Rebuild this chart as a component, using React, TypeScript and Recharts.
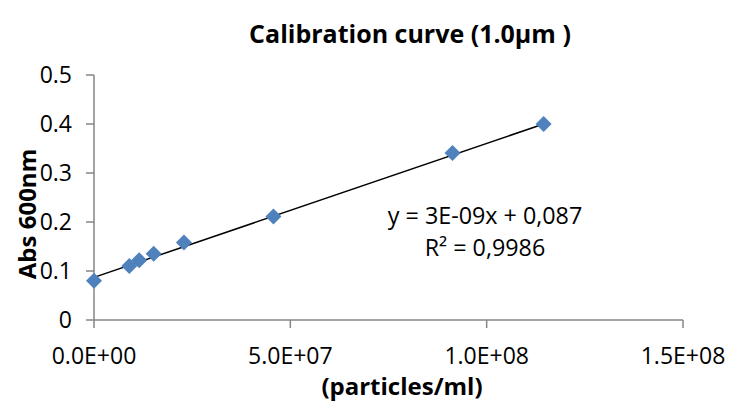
import React from 'react';
import {
  ScatterChart,
  Scatter,
  XAxis,
  YAxis,
  Customized
} from 'recharts';

// concentration (particles/ml) and absorbance at 600nm
const particles = [0, 9.0e6, 11.5e6, 15.2e6, 22.9e6, 45.7e6, 91.3e6, 114.5e6];
const absorbance = [0.08, 0.11, 0.122, 0.135, 0.158, 0.211, 0.341, 0.4];

// linear trendline endpoints as drawn in the picture
const trendX = [0, 114.5e6];
const trendY = [0.087, 0.4];

const xTicks = [0, 5e7, 1e8, 1.5e8];
const yTicks = [0, 0.1, 0.2, 0.3, 0.4, 0.5];

const equationText = 'y = 3E-09x + 0,087';
const r2Text = 'R² = 0,9986';

const points = particles.map((x, i) => ({ x, y: absorbance[i] }));
const trend = trendX.map((x, i) => ({ x, y: trendY[i] }));

const FONT = '"Open Sans", sans-serif';
const AXIS = '#868686';

const sci = (v: number) => {
  const [m, e] = v.toExponential(1).split('e');
  const sign = e[0] === '-' ? '-' : '+';
  return `${m}E${sign}${e.replace(/[+-]/, '').padStart(2, '0')}`;
};

const Diamond = (props: any) => {
  const { cx, cy } = props;
  const r = 8;
  return (
    <polygon
      points={`${cx},${cy - r} ${cx + r},${cy} ${cx},${cy + r} ${cx - r},${cy}`}
      fill="#4F81BD"
    />
  );
};

const Texts = () => (
  <g style={{ fontFamily: FONT }}>
    <text x={410} y={43} textAnchor="middle" fontSize={25} fontWeight="bold" fill="#000">
      Calibration curve (1.0µm )
    </text>
    <text x={485} y={224} textAnchor="middle" fontSize={23.3} fill="#000">
      {equationText}
    </text>
    <text x={485} y={256} textAnchor="middle" fontSize={23.3} fill="#000">
      {r2Text}
    </text>
    <text x={402} y={395} textAnchor="middle" fontSize={24} fontWeight="bold" fill="#000">
      (particles/ml)
    </text>
    <text
      x={36}
      y={214}
      textAnchor="middle"
      fontSize={24}
      fontWeight="bold"
      fill="#000"
      transform="rotate(-90 36 214)"
    >
      Abs 600nm
    </text>
  </g>
);

const App: React.FC = () => {
  return (
    <div style={{ position: 'absolute', left: 0, top: 0, width: 729, height: 403, background: '#fff', fontFamily: FONT }}>
      <ScatterChart width={729} height={403} margin={{ top: 75, right: 46, bottom: 33, left: 34 }}>
        <XAxis
          type="number"
          dataKey="x"
          domain={[0, 1.5e8]}
          ticks={xTicks}
          tickFormatter={sci}
          height={50}
          stroke={AXIS}
          strokeWidth={1.5}
          tickSize={8}
          tickMargin={20}
          tick={{ fill: '#000', fontSize: 23 }}
        />
        <YAxis
          type="number"
          dataKey="y"
          domain={[0, 0.5]}
          ticks={yTicks}
          width={60}
          stroke={AXIS}
          strokeWidth={1.5}
          tickSize={8}
          tickMargin={14}
          tick={{ fill: '#000', fontSize: 23 }}
        />
        <Scatter
          data={trend}
          line={{ stroke: '#000', strokeWidth: 1.5 }}
          shape={() => <g />}
          isAnimationActive={false}
        />
        <Scatter data={points} shape={<Diamond />} isAnimationActive={false} />
        <Customized component={Texts} />
      </ScatterChart>
    </div>
  );
};

export default App;
